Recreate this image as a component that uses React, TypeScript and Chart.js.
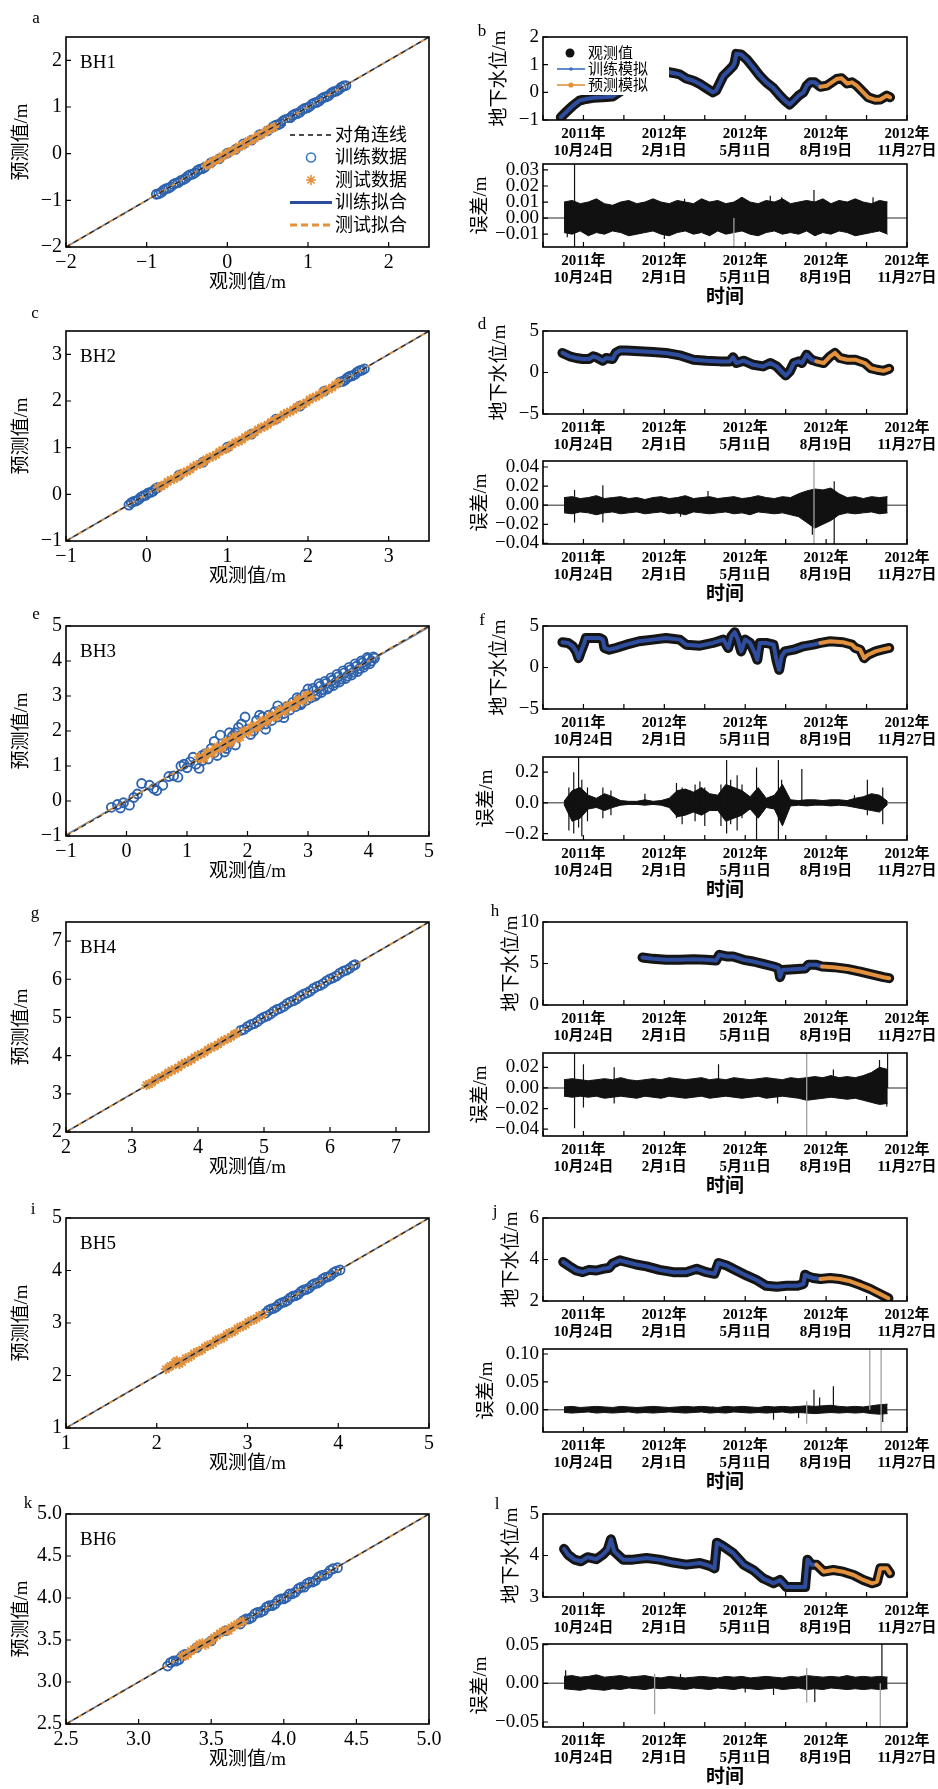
import React, { useEffect, useRef } from 'react';
import { Chart, registerables } from 'chart.js';

Chart.register(...registerables);

const SERIF = "'Liberation Serif', 'Noto Sans CJK SC', serif";

// ---------------- data ----------------
const WELLS = ['BH1', 'BH2', 'BH3', 'BH4', 'BH5', 'BH6'];
const LEFT_LETTERS = ['a', 'c', 'e', 'g', 'i', 'k'];
const RIGHT_LETTERS = ['b', 'd', 'f', 'h', 'j', 'l'];

const SCATTER_LEGEND = ['对角连线', '训练数据', '测试数据', '训练拟合', '测试拟合'];
const LEVEL_LEGEND = ['观测值', '训练模拟', '预测模拟'];

// scatter axis ranges (observed = x, predicted = y)
const SCATTER_MIN = [-2, -1, -1, 2, 1, 2.5];
const SCATTER_MAX = [2.5, 3.5, 5, 7.5, 5, 5];
const SCATTER_STEP = [1, 1, 1, 1, 1, 0.5];
const SCATTER_DEC = [0, 0, 0, 0, 0, 1];

// [observed, predicted]
const BH1_TRAIN = [[-0.88,-0.87],[-0.85,-0.86],[-0.82,-0.83],[-0.79,-0.78],[-0.76,-0.75],[-0.73,-0.74],[-0.7,-0.71],[-0.67,-0.66],[-0.64,-0.63],[-0.61,-0.62],[-0.58,-0.58],[-0.55,-0.56],[-0.52,-0.53],[-0.49,-0.48],[-0.46,-0.45],[-0.43,-0.44],[-0.4,-0.41],[-0.37,-0.36],[-0.34,-0.33],[-0.31,-0.32],[-0.28,-0.29],[-0.2,-0.19],[-0.1,-0.11],[0,0.01],[0.1,0.09],[0.2,0.21],[0.3,0.29],[0.4,0.41],[0.5,0.49],[0.57,0.58],[0.6,0.61],[0.63,0.62],[0.66,0.65],[0.69,0.7],[0.72,0.73],[0.75,0.74],[0.78,0.77],[0.81,0.82],[0.84,0.85],[0.87,0.86],[0.9,0.89],[0.93,0.94],[0.96,0.97],[0.99,0.98],[1.02,1.01],[1.05,1.06],[1.08,1.09],[1.11,1.1],[1.14,1.13],[1.17,1.18],[1.2,1.21],[1.23,1.22],[1.26,1.25],[1.29,1.3],[1.32,1.33],[1.35,1.34],[1.38,1.37],[1.41,1.42],[1.44,1.45],[1.47,1.46]];
const BH1_TEST = [[-0.26,-0.25],[-0.22,-0.23],[-0.18,-0.17],[-0.14,-0.13],[-0.1,-0.11],[-0.06,-0.05],[-0.02,-0.01],[0.02,0.03],[0.06,0.05],[0.1,0.09],[0.14,0.15],[0.18,0.17],[0.22,0.21],[0.26,0.27],[0.3,0.29],[0.34,0.33],[0.38,0.39],[0.42,0.41],[0.46,0.45],[0.5,0.51],[0.54,0.53],[0.58,0.57]];
const BH2_TRAIN = [[-0.22,-0.23],[-0.19,-0.18],[-0.16,-0.15],[-0.13,-0.14],[-0.1,-0.11],[-0.07,-0.06],[-0.04,-0.03],[-0.01,-0.02],[0.02,0.03],[0.05,0.04],[0.08,0.07],[0.11,0.12],[0.14,0.15],[0.4,0.41],[0.7,0.69],[1.0,1.01],[1.3,1.29],[1.6,1.61],[1.9,1.89],[2.2,2.21],[2.4,2.41],[2.43,2.42],[2.46,2.45],[2.49,2.5],[2.52,2.53],[2.55,2.54],[2.58,2.57],[2.61,2.62],[2.64,2.65],[2.67,2.66],[2.7,2.69]];
const BH2_TEST = [[0.14,0.15],[0.18,0.17],[0.22,0.21],[0.26,0.27],[0.3,0.31],[0.34,0.33],[0.38,0.37],[0.42,0.43],[0.46,0.47],[0.5,0.49],[0.54,0.53],[0.58,0.59],[0.62,0.63],[0.66,0.65],[0.7,0.69],[0.74,0.75],[0.78,0.79],[0.82,0.81],[0.86,0.85],[0.9,0.91],[0.94,0.95],[0.98,0.97],[1.02,1.01],[1.06,1.07],[1.1,1.11],[1.14,1.13],[1.18,1.17],[1.22,1.23],[1.26,1.27],[1.3,1.29],[1.34,1.33],[1.38,1.39],[1.42,1.43],[1.46,1.45],[1.5,1.49],[1.54,1.55],[1.58,1.59],[1.62,1.61],[1.66,1.65],[1.7,1.71],[1.74,1.75],[1.78,1.77],[1.82,1.81],[1.86,1.87],[1.9,1.91],[1.94,1.93],[1.98,1.97],[2.02,2.03],[2.06,2.07],[2.1,2.09],[2.14,2.13],[2.18,2.19],[2.22,2.23],[2.26,2.25],[2.3,2.29],[2.34,2.35],[2.38,2.39]];
const BH3_TRAIN = [[-0.25,-0.18],[-0.15,-0.1],[-0.1,-0.2],[-0.05,-0.05],[0.05,-0.12],[0.12,0.1],[0.18,0.2],[0.25,0.5],[0.38,0.45],[0.45,0.35],[0.5,0.3],[0.6,0.45],[0.7,0.7],[0.78,0.72],[0.85,0.68],[0.9,1.0],[0.95,1.05],[1.0,0.95],[1.05,1.12],[1.1,1.25],[1.15,1.05],[1.2,0.93],[1.25,1.15],[1.25,1.3],[1.3,1.35],[1.35,1.2],[1.4,1.5],[1.45,1.38],[1.45,1.7],[1.5,1.3],[1.55,1.88],[1.6,1.55],[1.62,1.4],[1.65,1.5],[1.7,1.65],[1.7,1.95],[1.75,1.85],[1.8,1.95],[1.8,1.6],[1.85,2.1],[1.9,2.2],[1.96,2.4],[2.0,2.05],[2.05,1.9],[2.1,2.0],[2.15,2.3],[2.2,2.15],[2.2,2.45],[2.25,2.4],[2.3,2.2],[2.3,2.05],[2.35,2.45],[2.4,2.3],[2.45,2.55],[2.5,2.4],[2.5,2.72],[2.55,2.6],[2.6,2.5],[2.6,2.38],[2.65,2.7],[2.7,2.6],[2.75,2.82],[2.8,2.7],[2.82,2.95],[2.85,2.9],[2.88,2.75],[2.9,2.8],[2.95,3.05],[2.98,2.88],[3.0,3.2],[3.05,2.95],[3.08,3.22],[3.1,3.15],[3.12,3.0],[3.15,3.05],[3.18,3.35],[3.2,3.28],[3.22,3.1],[3.25,3.18],[3.28,3.42],[3.3,3.36],[3.32,3.2],[3.35,3.25],[3.38,3.52],[3.4,3.45],[3.42,3.3],[3.45,3.38],[3.48,3.62],[3.5,3.55],[3.52,3.4],[3.55,3.48],[3.58,3.72],[3.6,3.66],[3.62,3.5],[3.65,3.57],[3.68,3.82],[3.7,3.75],[3.72,3.6],[3.75,3.68],[3.78,3.92],[3.8,3.85],[3.82,3.7],[3.85,3.78],[3.88,4.0],[3.9,3.95],[3.92,3.82],[3.95,3.9],[3.98,4.1],[4.0,4.06],[4.02,3.92],[4.05,4.0],[4.08,4.12],[4.1,4.08]];
const BH3_TEST = [[1.2,1.25],[1.24,1.2],[1.28,1.22],[1.32,1.36],[1.35,1.4],[1.42,1.36],[1.46,1.5],[1.5,1.55],[1.54,1.49],[1.58,1.52],[1.62,1.66],[1.65,1.7],[1.72,1.66],[1.76,1.8],[1.8,1.85],[1.84,1.79],[1.88,1.82],[1.92,1.96],[1.95,2.0],[2.02,1.96],[2.06,2.1],[2.1,2.15],[2.14,2.09],[2.18,2.12],[2.22,2.26],[2.25,2.3],[2.32,2.26],[2.36,2.4],[2.4,2.45],[2.44,2.39],[2.48,2.42],[2.52,2.56],[2.55,2.6],[2.62,2.56],[2.66,2.7],[2.7,2.75],[2.74,2.69],[2.78,2.72],[2.82,2.86],[2.85,2.9],[2.92,2.86],[2.96,3.0],[3.0,3.03],[3.05,2.98]];
const BH4_TRAIN = [[4.65,4.66],[4.7,4.69],[4.75,4.76],[4.8,4.81],[4.85,4.84],[4.9,4.89],[4.95,4.96],[5.0,5.01],[5.05,5.04],[5.1,5.09],[5.15,5.16],[5.2,5.21],[5.25,5.24],[5.3,5.29],[5.35,5.36],[5.4,5.41],[5.45,5.44],[5.5,5.49],[5.55,5.56],[5.6,5.61],[5.65,5.64],[5.7,5.69],[5.75,5.76],[5.8,5.81],[5.85,5.84],[5.9,5.89],[5.95,5.96],[6.0,6.01],[6.05,6.04],[6.1,6.09],[6.15,6.16],[6.2,6.21],[6.25,6.24],[6.3,6.29],[6.35,6.36],[6.38,6.38]];
const BH4_TEST = [[3.22,3.23],[3.26,3.25],[3.3,3.29],[3.35,3.36],[3.4,3.41],[3.45,3.44],[3.5,3.49],[3.55,3.56],[3.6,3.61],[3.65,3.64],[3.7,3.69],[3.75,3.76],[3.8,3.81],[3.85,3.84],[3.9,3.89],[3.95,3.96],[4.0,4.01],[4.05,4.04],[4.1,4.09],[4.15,4.16],[4.2,4.21],[4.25,4.24],[4.3,4.29],[4.35,4.36],[4.4,4.41],[4.45,4.44],[4.5,4.49],[4.55,4.56],[4.58,4.58]];
const BH5_TRAIN = [[3.2,3.19],[3.23,3.24],[3.26,3.27],[3.29,3.28],[3.32,3.31],[3.35,3.36],[3.38,3.39],[3.41,3.4],[3.44,3.43],[3.47,3.48],[3.5,3.51],[3.53,3.52],[3.56,3.55],[3.59,3.6],[3.62,3.63],[3.65,3.64],[3.68,3.67],[3.71,3.72],[3.74,3.75],[3.77,3.76],[3.8,3.79],[3.83,3.84],[3.86,3.87],[3.89,3.88],[3.92,3.91],[3.95,3.96],[3.98,3.99],[4.02,4.01]];
const BH5_TEST = [[2.1,2.12],[2.13,2.15],[2.15,2.18],[2.18,2.2],[2.2,2.25],[2.22,2.28],[2.25,2.22],[2.28,2.26],[2.32,2.33],[2.35,2.34],[2.38,2.37],[2.41,2.42],[2.44,2.45],[2.47,2.46],[2.5,2.49],[2.53,2.54],[2.56,2.57],[2.59,2.58],[2.62,2.61],[2.65,2.66],[2.68,2.69],[2.71,2.7],[2.74,2.73],[2.77,2.78],[2.8,2.81],[2.83,2.82],[2.86,2.85],[2.89,2.9],[2.92,2.93],[2.95,2.94],[2.98,2.97],[3.01,3.02],[3.04,3.05],[3.07,3.06],[3.1,3.09],[3.13,3.14],[3.16,3.15]];
const BH6_TRAIN = [[3.2,3.19],[3.22,3.23],[3.24,3.25],[3.26,3.25],[3.28,3.27],[3.3,3.31],[3.32,3.33],[3.4,3.41],[3.5,3.49],[3.6,3.61],[3.7,3.69],[3.72,3.73],[3.74,3.75],[3.76,3.75],[3.78,3.77],[3.8,3.81],[3.82,3.83],[3.84,3.83],[3.86,3.85],[3.88,3.89],[3.9,3.91],[3.92,3.91],[3.94,3.93],[3.96,3.97],[3.98,3.99],[4.0,3.99],[4.02,4.01],[4.04,4.05],[4.06,4.05],[4.08,4.07],[4.1,4.11],[4.12,4.13],[4.14,4.13],[4.16,4.17],[4.18,4.19],[4.2,4.19],[4.22,4.21],[4.24,4.25],[4.26,4.27],[4.28,4.27],[4.3,4.29],[4.32,4.33],[4.34,4.35],[4.37,4.36]];
const BH6_TEST = [[3.3,3.31],[3.32,3.31],[3.34,3.33],[3.36,3.37],[3.38,3.39],[3.4,3.42],[3.42,3.45],[3.44,3.46],[3.46,3.44],[3.48,3.47],[3.5,3.49],[3.52,3.53],[3.54,3.55],[3.56,3.58],[3.58,3.6],[3.6,3.62],[3.62,3.61],[3.64,3.65],[3.66,3.67],[3.68,3.69],[3.7,3.71],[3.72,3.72]];
const SCATTER_TRAIN = [BH1_TRAIN, BH2_TRAIN, BH3_TRAIN, BH4_TRAIN, BH5_TRAIN, BH6_TRAIN];
const SCATTER_TEST = [BH1_TEST, BH2_TEST, BH3_TEST, BH4_TEST, BH5_TEST, BH6_TEST];
// linear fits [slope, intercept]
const TRAIN_FIT = [[1.0, 0.0], [1.0, 0.0], [0.99, 0.02], [1.0, 0.0], [1.0, 0.0], [1.0, 0.0]];
const TEST_FIT = [[1.0, 0.0], [1.0, 0.0], [1.0, 0.01], [1.0, 0.0], [1.0, 0.0], [1.0, 0.0]];

// time axis: days since 2011-10-24
const DATE_MIN = -50;
const DATE_MAX = 400;
const DATE_STEP = 50;
const DATE_TICK_DAYS = [0, 100, 200, 300, 400];
const DATE_TICK_LABELS = [['2011年', '10月24日'], ['2012年', '2月1日'], ['2012年', '5月11日'], ['2012年', '8月19日'], ['2012年', '11月27日']];

const LEVEL_MIN = [-1, -5, -5, 0, 2, 3];
const LEVEL_MAX = [2, 5, 5, 10, 6, 5];
const LEVEL_STEP = [1, 5, 5, 5, 2, 1];
const SPLIT_DAY = [293, 288, 293, 295, 293, 288];

// [day, groundwater level m]
const BH1_LEVEL = [[-28,-0.9],[-21,-0.7],[-13,-0.48],[-5,-0.3],[3,-0.24],[12,-0.2],[24,-0.18],[36,-0.15],[49,0.1],[61,0.4],[78,0.68],[86,0.63],[94,0.7],[102,0.75],[111,0.7],[119,0.65],[127,0.5],[136,0.42],[144,0.3],[152,0.15],[160,0.0],[164,0.06],[169,0.36],[173,0.6],[179,0.77],[185,0.95],[187,1.07],[189,1.39],[195,1.37],[202,1.19],[210,0.9],[218,0.6],[226,0.36],[235,0.15],[243,-0.12],[249,-0.3],[255,-0.44],[260,-0.3],[266,-0.12],[272,0],[276,0.24],[280,0.36],[286,0.36],[293,0.2],[301,0.24],[307,0.36],[313,0.48],[319,0.51],[326,0.32],[332,0.36],[338,0.24],[346,0],[352,-0.18],[361,-0.27],[367,-0.26],[375,-0.12],[379,-0.18]];
const BH2_LEVEL = [[-26,2.36],[-17,1.95],[-9,1.75],[-1,1.63],[7,1.63],[12,1.95],[16,1.83],[24,1.42],[28,1.75],[36,1.63],[40,2.36],[45,2.64],[53,2.64],[69,2.56],[86,2.48],[102,2.36],[119,2.07],[136,1.54],[152,1.42],[169,1.34],[181,1.34],[185,1.83],[189,1.14],[198,1.42],[210,0.93],[222,0.73],[231,1.14],[239,0.73],[245,0.12],[250,-0.37],[255,0.12],[260,1.14],[266,1.34],[270,1.14],[276,2.15],[282,1.54],[288,1.34],[297,1.14],[305,1.95],[311,2.36],[317,1.75],[326,1.54],[336,1.54],[342,1.34],[348,1.14],[355,0.53],[363,0.33],[371,0.2],[378,0.45]];
const BH3_LEVEL = [[-26,3.04],[-19,2.96],[-13,2.55],[-9,1.94],[-6,1.13],[-3,1.94],[1,2.96],[3,3.56],[12,3.56],[20,3.56],[24,3.36],[26,2.35],[32,2.15],[40,2.35],[53,2.75],[69,3.16],[86,3.36],[102,3.56],[119,3.36],[127,2.75],[144,2.63],[160,2.96],[173,3.36],[179,2.35],[183,3.77],[187,4.25],[191,3.36],[195,1.94],[200,3.36],[206,2.96],[212,1.74],[215,0.93],[218,2.96],[226,2.96],[235,2.75],[239,0.73],[242,-0.28],[245,1.34],[249,1.94],[260,2.15],[272,2.55],[284,2.75],[293,2.96],[305,3.16],[321,3.04],[332,2.75],[336,2.35],[342,2.15],[347,1.13],[352,1.54],[361,1.94],[369,2.15],[378,2.35]];
const BH4_LEVEL = [[73,5.73],[86,5.56],[102,5.44],[119,5.44],[136,5.52],[152,5.44],[164,5.36],[168,6.05],[177,5.85],[185,5.85],[198,5.44],[210,5.24],[222,4.96],[235,4.64],[241,4.44],[243,3.35],[246,4.23],[260,4.31],[274,4.4],[278,4.84],[288,4.84],[295,4.64],[309,4.56],[326,4.35],[342,4.03],[359,3.63],[371,3.35],[378,3.23]];
const BH5_LEVEL = [[-25,3.88],[-17,3.67],[-9,3.47],[-1,3.39],[7,3.5],[16,3.47],[24,3.55],[32,3.6],[36,3.8],[45,3.96],[53,3.88],[65,3.76],[78,3.67],[94,3.5],[111,3.39],[127,3.39],[140,3.55],[152,3.39],[162,3.31],[167,3.83],[177,3.71],[189,3.47],[202,3.22],[214,3.01],[226,2.73],[239,2.69],[251,2.73],[264,2.73],[272,2.82],[274,3.27],[278,3.18],[284,3.11],[293,3.06],[305,3.11],[317,3.06],[330,2.95],[342,2.78],[355,2.57],[367,2.33],[377,2.13]];
const BH6_LEVEL = [[-24,4.16],[-19,4.02],[-11,3.9],[-3,3.86],[5,3.96],[16,3.91],[24,4.02],[30,4.14],[34,4.39],[38,4.1],[49,3.9],[61,3.9],[78,3.94],[94,3.9],[111,3.83],[127,3.78],[144,3.82],[156,3.75],[162,3.69],[165,4.31],[173,4.22],[185,4.06],[198,3.78],[210,3.65],[222,3.45],[235,3.33],[243,3.41],[251,3.24],[260,3.24],[268,3.24],[274,3.24],[277,3.9],[282,3.78],[288,3.78],[297,3.61],[309,3.65],[321,3.61],[334,3.53],[346,3.41],[357,3.33],[363,3.37],[367,3.69],[375,3.69],[379,3.57]];
const LEVELS = [BH1_LEVEL, BH2_LEVEL, BH3_LEVEL, BH4_LEVEL, BH5_LEVEL, BH6_LEVEL];

// error panels
const ERR_MIN = [-0.018, -0.0406, -0.242, -0.0466, -0.040, -0.0565];
const ERR_MAX = [0.0337, 0.0463, 0.299, 0.0339, 0.109, 0.0509];
const ERR_STEP = [0.01, 0.02, 0.2, 0.02, 0.05, 0.05];
const ERR_DEC = [2, 2, 1, 2, 2, 2];
const ERR_DAYS = [-24,-14,-4,6,16,26,36,46,56,66,76,86,96,106,116,126,136,146,156,166,176,186,196,206,216,226,236,246,256,266,276,286,296,306,316,326,336,346,356,366,376];

const BH1_ERR_UPPER = [0.010,0.011,0.009,0.010,0.012,0.009,0.008,0.010,0.011,0.009,0.010,0.012,0.010,0.009,0.011,0.010,0.009,0.012,0.010,0.011,0.009,0.010,0.013,0.010,0.009,0.011,0.010,0.012,0.009,0.010,0.011,0.010,0.012,0.009,0.011,0.010,0.012,0.010,0.009,0.011,0.010];
const BH1_ERR_LOWER = [-0.009,-0.010,-0.008,-0.011,-0.009,-0.010,-0.008,-0.009,-0.011,-0.010,-0.009,-0.008,-0.010,-0.011,-0.009,-0.008,-0.010,-0.009,-0.011,-0.008,-0.010,-0.009,-0.008,-0.010,-0.011,-0.009,-0.008,-0.010,-0.009,-0.010,-0.008,-0.011,-0.009,-0.010,-0.008,-0.009,-0.011,-0.010,-0.009,-0.008,-0.010];
const BH2_ERR_UPPER = [0.008,0.009,0.007,0.008,0.010,0.007,0.008,0.009,0.007,0.008,0.006,0.008,0.009,0.007,0.008,0.010,0.007,0.008,0.009,0.007,0.008,0.009,0.007,0.008,0.010,0.008,0.007,0.009,0.008,0.012,0.015,0.017,0.016,0.018,0.012,0.008,0.009,0.007,0.009,0.008,0.009];
const BH2_ERR_LOWER = [-0.008,-0.009,-0.007,-0.008,-0.010,-0.008,-0.007,-0.009,-0.008,-0.007,-0.009,-0.008,-0.007,-0.009,-0.008,-0.010,-0.007,-0.008,-0.009,-0.008,-0.007,-0.009,-0.008,-0.010,-0.007,-0.008,-0.009,-0.008,-0.010,-0.012,-0.018,-0.024,-0.020,-0.016,-0.010,-0.008,-0.009,-0.008,-0.007,-0.009,-0.008];
const BH3_ERR_UPPER = [0.01,0.08,0.1,0.05,0.03,0.06,0.04,0.015,0.01,0.01,0.02,0.01,0.015,0.03,0.08,0.09,0.07,0.1,0.06,0.05,0.12,0.1,0.08,0.04,0.1,0.03,0.05,0.12,0.02,0.015,0.02,0.02,0.015,0.02,0.02,0.015,0.03,0.04,0.06,0.05,0.01];
const BH3_ERR_LOWER = [-0.01,-0.12,-0.1,-0.04,-0.03,-0.05,-0.03,-0.015,-0.01,-0.01,-0.015,-0.01,-0.015,-0.03,-0.09,-0.08,-0.06,-0.08,-0.05,-0.05,-0.12,-0.1,-0.08,-0.04,-0.1,-0.03,-0.04,-0.15,-0.02,-0.015,-0.02,-0.015,-0.015,-0.02,-0.015,-0.02,-0.03,-0.04,-0.05,-0.06,-0.01];
const BH4_ERR_UPPER = [0.008,0.009,0.008,0.007,0.008,0.009,0.008,0.010,0.008,0.007,0.008,0.009,0.008,0.010,0.009,0.008,0.009,0.010,0.008,0.009,0.008,0.010,0.009,0.008,0.009,0.010,0.009,0.008,0.010,0.009,0.010,0.011,0.010,0.012,0.010,0.011,0.010,0.012,0.015,0.020,0.018];
const BH4_ERR_LOWER = [-0.008,-0.009,-0.008,-0.009,-0.008,-0.010,-0.009,-0.008,-0.009,-0.010,-0.008,-0.009,-0.010,-0.008,-0.009,-0.010,-0.009,-0.008,-0.010,-0.009,-0.008,-0.009,-0.010,-0.009,-0.008,-0.010,-0.009,-0.008,-0.009,-0.010,-0.012,-0.011,-0.010,-0.009,-0.010,-0.011,-0.010,-0.012,-0.014,-0.016,-0.015];
const BH5_ERR_UPPER = [0.005,0.006,0.004,0.005,0.006,0.005,0.004,0.006,0.005,0.004,0.005,0.006,0.005,0.004,0.005,0.006,0.005,0.006,0.005,0.004,0.006,0.005,0.006,0.005,0.004,0.006,0.005,0.006,0.005,0.006,0.007,0.006,0.007,0.008,0.006,0.005,0.006,0.005,0.007,0.009,0.010];
const BH5_ERR_LOWER = [-0.005,-0.006,-0.005,-0.004,-0.006,-0.005,-0.006,-0.005,-0.004,-0.006,-0.005,-0.006,-0.005,-0.004,-0.005,-0.006,-0.005,-0.004,-0.006,-0.005,-0.006,-0.004,-0.005,-0.006,-0.005,-0.006,-0.005,-0.004,-0.006,-0.005,-0.006,-0.007,-0.006,-0.005,-0.006,-0.005,-0.006,-0.005,-0.007,-0.008,-0.007];
const BH6_ERR_UPPER = [0.009,0.010,0.008,0.009,0.011,0.008,0.009,0.010,0.008,0.009,0.010,0.008,0.007,0.009,0.008,0.007,0.008,0.009,0.008,0.007,0.009,0.008,0.009,0.007,0.008,0.009,0.008,0.007,0.009,0.008,0.010,0.009,0.008,0.009,0.008,0.010,0.008,0.009,0.008,0.009,0.008];
const BH6_ERR_LOWER = [-0.007,-0.008,-0.009,-0.007,-0.008,-0.009,-0.007,-0.008,-0.006,-0.007,-0.008,-0.006,-0.007,-0.006,-0.007,-0.008,-0.006,-0.007,-0.008,-0.006,-0.007,-0.008,-0.006,-0.007,-0.008,-0.007,-0.006,-0.008,-0.007,-0.006,-0.008,-0.007,-0.008,-0.006,-0.007,-0.008,-0.007,-0.008,-0.007,-0.008,-0.007];
const ERR_UPPER = [BH1_ERR_UPPER, BH2_ERR_UPPER, BH3_ERR_UPPER, BH4_ERR_UPPER, BH5_ERR_UPPER, BH6_ERR_UPPER];
const ERR_LOWER = [BH1_ERR_LOWER, BH2_ERR_LOWER, BH3_ERR_LOWER, BH4_ERR_LOWER, BH5_ERR_LOWER, BH6_ERR_LOWER];

// isolated error spikes [day, error m]
const BH1_SPIKES = [[-20,-0.012],[-11,0.04],[-11,-0.03],[100,-0.013],[125,0.012],[195,0.013],[231,0.014],[245,0.013],[285,0.0175],[358,0.013]];
const BH1_SPIKES_LIGHT = [[186,-0.03]];
const BH2_SPIKES = [[-11,0.016],[-11,-0.018],[24,0.021],[24,-0.018],[120,-0.012],[154,0.015],[283,-0.031],[310,0.025],[310,-0.06]];
const BH2_SPIKES_LIGHT = [[285,0.06],[285,-0.06]];
const BH3_SPIKES = [[-18,0.1],[-18,-0.18],[-12,0.2],[-12,-0.2],[-6,0.3],[-6,-0.16],[-2,0.15],[-2,-0.22],[5,0.1],[5,-0.12],[24,0.1],[24,-0.1],[34,0.08],[34,-0.08],[76,0.06],[115,0.13],[115,-0.1],[122,0.1],[122,-0.14],[132,0.08],[138,0.12],[138,-0.12],[144,0.14],[144,-0.05],[150,0.1],[150,-0.15],[170,0.12],[170,-0.15],[177,0.28],[177,-0.2],[182,0.15],[182,-0.14],[190,0.18],[190,-0.18],[196,0.12],[196,-0.1],[214,0.23],[214,-0.24],[222,0.05],[222,-0.06],[241,0.28],[241,-0.24],[245,0.15],[245,-0.12],[270,0.22],[335,0.05],[351,0.15],[351,-0.08],[370,0.1],[370,-0.14]];
const BH3_SPIKES_LIGHT = [];
const BH4_SPIKES = [[-11,0.05],[-11,-0.039],[0,0.023],[0,-0.019],[38,0.02],[38,-0.015],[167,0.023],[240,-0.015],[309,0.018],[366,0.027],[375,-0.018],[376,0.034]];
const BH4_SPIKES_LIGHT = [[276,0.05],[276,-0.05]];
const BH5_SPIKES = [[160,0.006],[235,-0.018],[266,-0.015],[285,0.036],[292,0.022],[309,0.042],[370,-0.022]];
const BH5_SPIKES_LIGHT = [[276,0.015],[276,-0.025],[354,0.12],[368,0.12],[368,-0.05]];
const BH6_SPIKES = [[-22,0.017],[120,0.012],[200,-0.012],[235,-0.015],[286,-0.024],[369,0.08]];
const BH6_SPIKES_LIGHT = [[88,-0.04],[88,0.012],[276,0.02],[276,-0.025],[367,-0.08]];
const SPIKES = [BH1_SPIKES, BH2_SPIKES, BH3_SPIKES, BH4_SPIKES, BH5_SPIKES, BH6_SPIKES];
const SPIKES_LIGHT = [BH1_SPIKES_LIGHT, BH2_SPIKES_LIGHT, BH3_SPIKES_LIGHT, BH4_SPIKES_LIGHT, BH5_SPIKES_LIGHT, BH6_SPIKES_LIGHT];

// ---------------- layout & style ----------------
const ROW_TOP = [37, 331, 626, 922, 1218, 1514];
const ERR_TOP = [164, 461, 757, 1053, 1349, 1644];
const LEVEL_TITLE_X = [40, 40, 40, 52, 52, 52];
const ERR_TITLE_X = [21, 21, 27, 21, 27, 21];
const LEFT_LETTER_POS = [[36, 17], [35, 312], [36, 613], [35, 912], [33, 1208], [28, 1502]];
const RIGHT_LETTER_POS = [[482, 30], [482, 323], [482, 619], [495, 910], [495, 1210], [497, 1503]];

const CIRCLE_BLUE = '#2d62ad';
const FIT_BLUE = '#2b4c9b';
const SIM_BLUE = '#2f4d9e';
const ORANGE = '#e3913c';

function fmt(v: number, dec: number) {
  if (Math.abs(v) < 1e-12) v = 0;
  return (v < 0 ? '\u2212' : '') + Math.abs(v).toFixed(dec);
}

function zeroPad(s: any) {
  s.paddingLeft = 0; s.paddingRight = 0; s.paddingTop = 0; s.paddingBottom = 0;
}

function drawStar(ctx: any, x: number, y: number, r: number) {
  ctx.beginPath();
  ctx.moveTo(x - r, y); ctx.lineTo(x + r, y);
  ctx.moveTo(x, y - r); ctx.lineTo(x, y + r);
  const d = r * 0.707;
  ctx.moveTo(x - d, y - d); ctx.lineTo(x + d, y + d);
  ctx.moveTo(x - d, y + d); ctx.lineTo(x + d, y - d);
  ctx.stroke();
}

function drawScatterLegend(ctx: any, a: any) {
  const x0 = a.left + 224, y0 = a.top + 98, dy = 22.5;
  ctx.fillStyle = '#fff';
  ctx.fillRect(x0 - 4, y0 - 12, 126, dy * 4 + 24);
  ctx.lineCap = 'butt';
  ctx.strokeStyle = '#111'; ctx.lineWidth = 1.5; ctx.setLineDash([5, 4]);
  ctx.beginPath(); ctx.moveTo(x0, y0); ctx.lineTo(x0 + 42, y0); ctx.stroke();
  ctx.setLineDash([]);
  ctx.strokeStyle = '#3a7bc4'; ctx.lineWidth = 1.6;
  ctx.beginPath(); ctx.arc(x0 + 21, y0 + dy, 4.5, 0, Math.PI * 2); ctx.stroke();
  ctx.strokeStyle = ORANGE; ctx.lineWidth = 1.6;
  drawStar(ctx, x0 + 21, y0 + 2 * dy, 5);
  ctx.strokeStyle = FIT_BLUE; ctx.lineWidth = 3.2;
  ctx.beginPath(); ctx.moveTo(x0, y0 + 3 * dy); ctx.lineTo(x0 + 42, y0 + 3 * dy); ctx.stroke();
  ctx.strokeStyle = ORANGE; ctx.setLineDash([7, 4]);
  ctx.beginPath(); ctx.moveTo(x0, y0 + 4 * dy); ctx.lineTo(x0 + 42, y0 + 4 * dy); ctx.stroke();
  ctx.setLineDash([]);
  ctx.fillStyle = '#000'; ctx.font = `18px ${SERIF}`; ctx.textAlign = 'left'; ctx.textBaseline = 'middle';
  SCATTER_LEGEND.forEach((t, k) => ctx.fillText(t, x0 + 45, y0 + k * dy + 1));
}

function drawLevelLegend(ctx: any, a: any) {
  const x0 = a.left + 14, y0 = a.top + 16, dy = 16;
  ctx.fillStyle = '#fff';
  ctx.fillRect(a.left + 8, a.top + 5, 118, 53);
  ctx.fillStyle = '#111';
  ctx.beginPath(); ctx.arc(x0 + 13, y0, 4.5, 0, Math.PI * 2); ctx.fill();
  ctx.lineWidth = 1.6; ctx.setLineDash([]);
  ctx.strokeStyle = '#3b6fc0';
  ctx.beginPath(); ctx.moveTo(x0, y0 + dy); ctx.lineTo(x0 + 28, y0 + dy); ctx.stroke();
  ctx.fillStyle = '#3b6fc0';
  ctx.beginPath(); ctx.arc(x0 + 14, y0 + dy, 1.8, 0, Math.PI * 2); ctx.fill();
  ctx.strokeStyle = ORANGE;
  ctx.beginPath(); ctx.moveTo(x0, y0 + 2 * dy); ctx.lineTo(x0 + 28, y0 + 2 * dy); ctx.stroke();
  ctx.fillStyle = ORANGE;
  ctx.beginPath(); ctx.arc(x0 + 14, y0 + 2 * dy, 2.6, 0, Math.PI * 2); ctx.fill();
  ctx.fillStyle = '#000'; ctx.font = `15px ${SERIF}`; ctx.textAlign = 'left'; ctx.textBaseline = 'middle';
  LEVEL_LEGEND.forEach((t, k) => ctx.fillText(t, a.left + 45, y0 + k * dy + 1));
}

function decorPlugin(cfg: any) {
  return {
    id: 'decor',
    beforeDatasetsDraw(chart: any) {
      if (!cfg.zeroLine) return;
      const { ctx, chartArea: a, scales } = chart;
      const y = scales.y.getPixelForValue(0);
      ctx.save();
      ctx.strokeStyle = '#707070'; ctx.lineWidth = 1.5;
      ctx.beginPath(); ctx.moveTo(a.left, y); ctx.lineTo(a.right, y); ctx.stroke();
      ctx.restore();
    },
    afterDatasetsDraw(chart: any) {
      const { ctx, chartArea: a, scales } = chart;
      ctx.save();
      if (cfg.legend === 'scatter') drawScatterLegend(ctx, a);
      if (cfg.legend === 'level') drawLevelLegend(ctx, a);
      if (cfg.label) {
        ctx.fillStyle = '#000'; ctx.font = `19px ${SERIF}`;
        ctx.textAlign = 'left'; ctx.textBaseline = 'middle';
        ctx.fillText(cfg.label, a.left + 14, a.top + 26);
      }
      ctx.setLineDash([]);
      ctx.strokeStyle = '#000'; ctx.lineWidth = 1.2;
      ctx.beginPath();
      for (const t of scales.x.ticks) {
        const px = scales.x.getPixelForValue(t.value);
        ctx.moveTo(px, a.bottom); ctx.lineTo(px, a.bottom - cfg.tickLen);
      }
      for (const t of scales.y.ticks) {
        const py = scales.y.getPixelForValue(t.value);
        ctx.moveTo(a.left, py); ctx.lineTo(a.left + cfg.tickLen, py);
      }
      ctx.stroke();
      ctx.lineWidth = 1.6;
      ctx.strokeRect(a.left, a.top, a.right - a.left, a.bottom - a.top);
      ctx.restore();
    },
  };
}

function yAxis(min: number, max: number, step: number, dec: number, title: string, titleX: number, width: number) {
  return {
    type: 'linear', min, max,
    ticks: {
      stepSize: step, includeBounds: false, autoSkip: false, padding: 4, color: '#000',
      font: { family: SERIF, size: width > 70 ? 19 : 20 },
      callback: (v: number) => fmt(v, dec),
    },
    grid: { display: false, drawTicks: false },
    border: { display: false },
    title: { display: true, text: title, color: '#000', font: { family: SERIF, size: 19 }, padding: { top: titleX - 11.4, bottom: 0 } },
    afterFit: (s: any) => { s.width = width; zeroPad(s); },
  };
}

function dateAxis(height: number, withTitle: boolean) {
  return {
    type: 'linear', min: DATE_MIN, max: DATE_MAX,
    ticks: {
      stepSize: DATE_STEP, includeBounds: false, autoSkip: false, maxRotation: 0, minRotation: 0, padding: 5, color: '#000',
      font: { family: SERIF, size: 15, weight: 'bold', lineHeight: 1.15 },
      callback: (v: number) => { const k = DATE_TICK_DAYS.indexOf(v); return k >= 0 ? DATE_TICK_LABELS[k] : ''; },
    },
    grid: { display: false, drawTicks: false },
    border: { display: false },
    title: { display: withTitle, text: '时间', color: '#000', font: { family: SERIF, size: 19, weight: 'bold' }, padding: { top: 0, bottom: 2 } },
    afterFit: (s: any) => { s.height = height; zeroPad(s); },
  };
}

const baseOptions = {
  animation: false,
  responsive: false,
  events: [],
  plugins: { legend: { display: false }, tooltip: { enabled: false } },
};

function scatterConfig(i: number) {
  const lo = SCATTER_MIN[i], hi = SCATTER_MAX[i];
  const pts = (arr: number[][]) => arr.map(([o, p]) => ({ x: o, y: p }));
  const fitLine = (f: number[]) => [{ x: lo, y: f[0] * lo + f[1] }, { x: hi, y: f[0] * hi + f[1] }];
  return {
    type: 'scatter',
    data: {
      datasets: [
        { data: [{ x: lo, y: lo }, { x: hi, y: hi }], showLine: true, borderColor: '#222', borderWidth: 1.2, borderDash: [5, 4], pointRadius: 0, order: 0, clip: 0 },
        { data: fitLine(TEST_FIT[i]), showLine: true, borderColor: ORANGE, borderWidth: 1.6, borderDash: [7, 5], pointRadius: 0, order: 1, clip: 0 },
        { data: fitLine(TRAIN_FIT[i]), showLine: true, borderColor: '#6f7f9f', borderWidth: 1.6, pointRadius: 0, order: 2, clip: 0 },
        { data: pts(SCATTER_TEST[i]), pointStyle: 'star', pointRadius: 5, borderColor: ORANGE, pointBorderColor: ORANGE, pointBorderWidth: 2, order: 3, clip: 0 },
        { data: pts(SCATTER_TRAIN[i]), pointStyle: 'circle', pointRadius: 4.5, borderColor: CIRCLE_BLUE, pointBorderColor: CIRCLE_BLUE, pointBackgroundColor: 'rgba(0,0,0,0)', backgroundColor: 'rgba(0,0,0,0)', pointBorderWidth: 1.8, order: 4, clip: 0 },
      ],
    },
    options: {
      ...baseOptions,
      layout: { padding: { left: 0, right: 31, top: 20, bottom: 0 } },
      scales: {
        x: {
          type: 'linear', min: lo, max: hi,
          ticks: { stepSize: SCATTER_STEP[i], includeBounds: false, autoSkip: false, maxRotation: 0, padding: 4, color: '#000', font: { family: SERIF, size: 20 }, callback: (v: number) => fmt(v, SCATTER_DEC[i]) },
          grid: { display: false, drawTicks: false },
          border: { display: false },
          title: { display: true, text: '观测值/m', color: '#000', font: { family: SERIF, size: 19 }, padding: { top: 0, bottom: 3 } },
          afterFit: (s: any) => { s.height = 50; zeroPad(s); },
        },
        y: yAxis(lo, hi, SCATTER_STEP[i], SCATTER_DEC[i], '预测值/m', 22, 66),
      },
    },
    plugins: [decorPlugin({ tickLen: 5, label: WELLS[i], legend: i === 0 ? 'scatter' : null })],
  };
}

function levelConfig(i: number) {
  const lv = LEVELS[i];
  const k = lv.findIndex((p) => p[0] >= SPLIT_DAY[i]);
  const xy = (arr: number[][]) => arr.map(([d, v]) => ({ x: d, y: v }));
  const train = lv.slice(0, k + 1), test = lv.slice(k);
  const common = { pointRadius: 0, fill: false, clip: 0, borderJoinStyle: 'round', borderCapStyle: 'round' };
  return {
    type: 'line',
    data: {
      datasets: [
        { ...common, data: xy(train), borderColor: SIM_BLUE, borderWidth: 4, order: 1 },
        { ...common, data: xy(test), borderColor: ORANGE, borderWidth: 4, order: 0 },
        { ...common, data: xy(lv), borderColor: '#151515', borderWidth: 10, order: 2 },
      ],
    },
    options: {
      ...baseOptions,
      layout: { padding: { left: 0, right: 31, top: 20, bottom: 0 } },
      scales: {
        x: dateAxis(40, false),
        y: yAxis(LEVEL_MIN[i], LEVEL_MAX[i], LEVEL_STEP[i], 0, '地下水位/m', LEVEL_TITLE_X[i], 83),
      },
    },
    plugins: [decorPlugin({ tickLen: 5, legend: i === 0 ? 'level' : null })],
  };
}

function spikeData(list: number[][]) {
  const out: any[] = [];
  list.forEach(([d, v]) => { out.push({ x: d, y: 0 }, { x: d, y: v }, { x: d, y: null }); });
  return out;
}

function errorConfig(i: number) {
  const up = ERR_UPPER[i].map((v, k) => ({ x: ERR_DAYS[k], y: v }));
  const lw = ERR_LOWER[i].map((v, k) => ({ x: ERR_DAYS[k], y: v }));
  const common = { pointRadius: 0, clip: 0, spanGaps: false };
  return {
    type: 'line',
    data: {
      datasets: [
        { ...common, data: up, borderColor: '#111', backgroundColor: '#111', borderWidth: 1, fill: '+1', order: 3 },
        { ...common, data: lw, borderColor: '#111', backgroundColor: '#111', borderWidth: 1, fill: false, order: 4 },
        { ...common, data: spikeData(SPIKES[i]), borderColor: '#111', borderWidth: 1.2, fill: false, order: 1 },
        { ...common, data: spikeData(SPIKES_LIGHT[i]), borderColor: '#a0a0a0', borderWidth: 1.3, fill: false, order: 2 },
      ],
    },
    options: {
      ...baseOptions,
      layout: { padding: { left: 0, right: 31, top: 20, bottom: 0 } },
      scales: {
        x: dateAxis(64, true),
        y: yAxis(ERR_MIN[i], ERR_MAX[i], ERR_STEP[i], ERR_DEC[i], '误差/m', ERR_TITLE_X[i], 83),
      },
    },
    plugins: [decorPlugin({ tickLen: 5, zeroLine: true })],
  };
}

function ChartBox(props: any) {
  const { left, top, width, height, make } = props;
  const ref = useRef<HTMLCanvasElement | null>(null);
  useEffect(() => {
    if (!ref.current) return;
    const chart = new Chart(ref.current, make());
    return () => chart.destroy();
  }, []);
  return (
    <canvas ref={ref} width={width} height={height}
      style={{ position: 'absolute', left, top, width, height, display: 'block' }} />
  );
}

export default function App() {
  const items: any[] = [];
  for (let i = 0; i < 6; i++) {
    items.push(<ChartBox key={'s' + i} left={0} top={ROW_TOP[i] - 20} width={460} height={280} make={() => scatterConfig(i)} />);
    items.push(<ChartBox key={'l' + i} left={460} top={ROW_TOP[i] - 20} width={478} height={143} make={() => levelConfig(i)} />);
    items.push(<ChartBox key={'e' + i} left={460} top={ERR_TOP[i] - 20} width={478} height={167} make={() => errorConfig(i)} />);
  }
  const letterStyle = (x: number, y: number): any => ({
    position: 'absolute', left: x, top: y, transform: 'translate(-50%, -50%)',
    fontFamily: SERIF, fontSize: 17, lineHeight: 1, color: '#000',
  });
  return (
    <div style={{ position: 'absolute', left: 0, top: 0, width: 938, height: 1789, background: '#fff', overflow: 'hidden' }}>
      {items}
      {LEFT_LETTERS.map((t, i) => <span key={'ll' + i} style={letterStyle(LEFT_LETTER_POS[i][0], LEFT_LETTER_POS[i][1])}>{t}</span>)}
      {RIGHT_LETTERS.map((t, i) => <span key={'rl' + i} style={letterStyle(RIGHT_LETTER_POS[i][0], RIGHT_LETTER_POS[i][1])}>{t}</span>)}
    </div>
  );
}
